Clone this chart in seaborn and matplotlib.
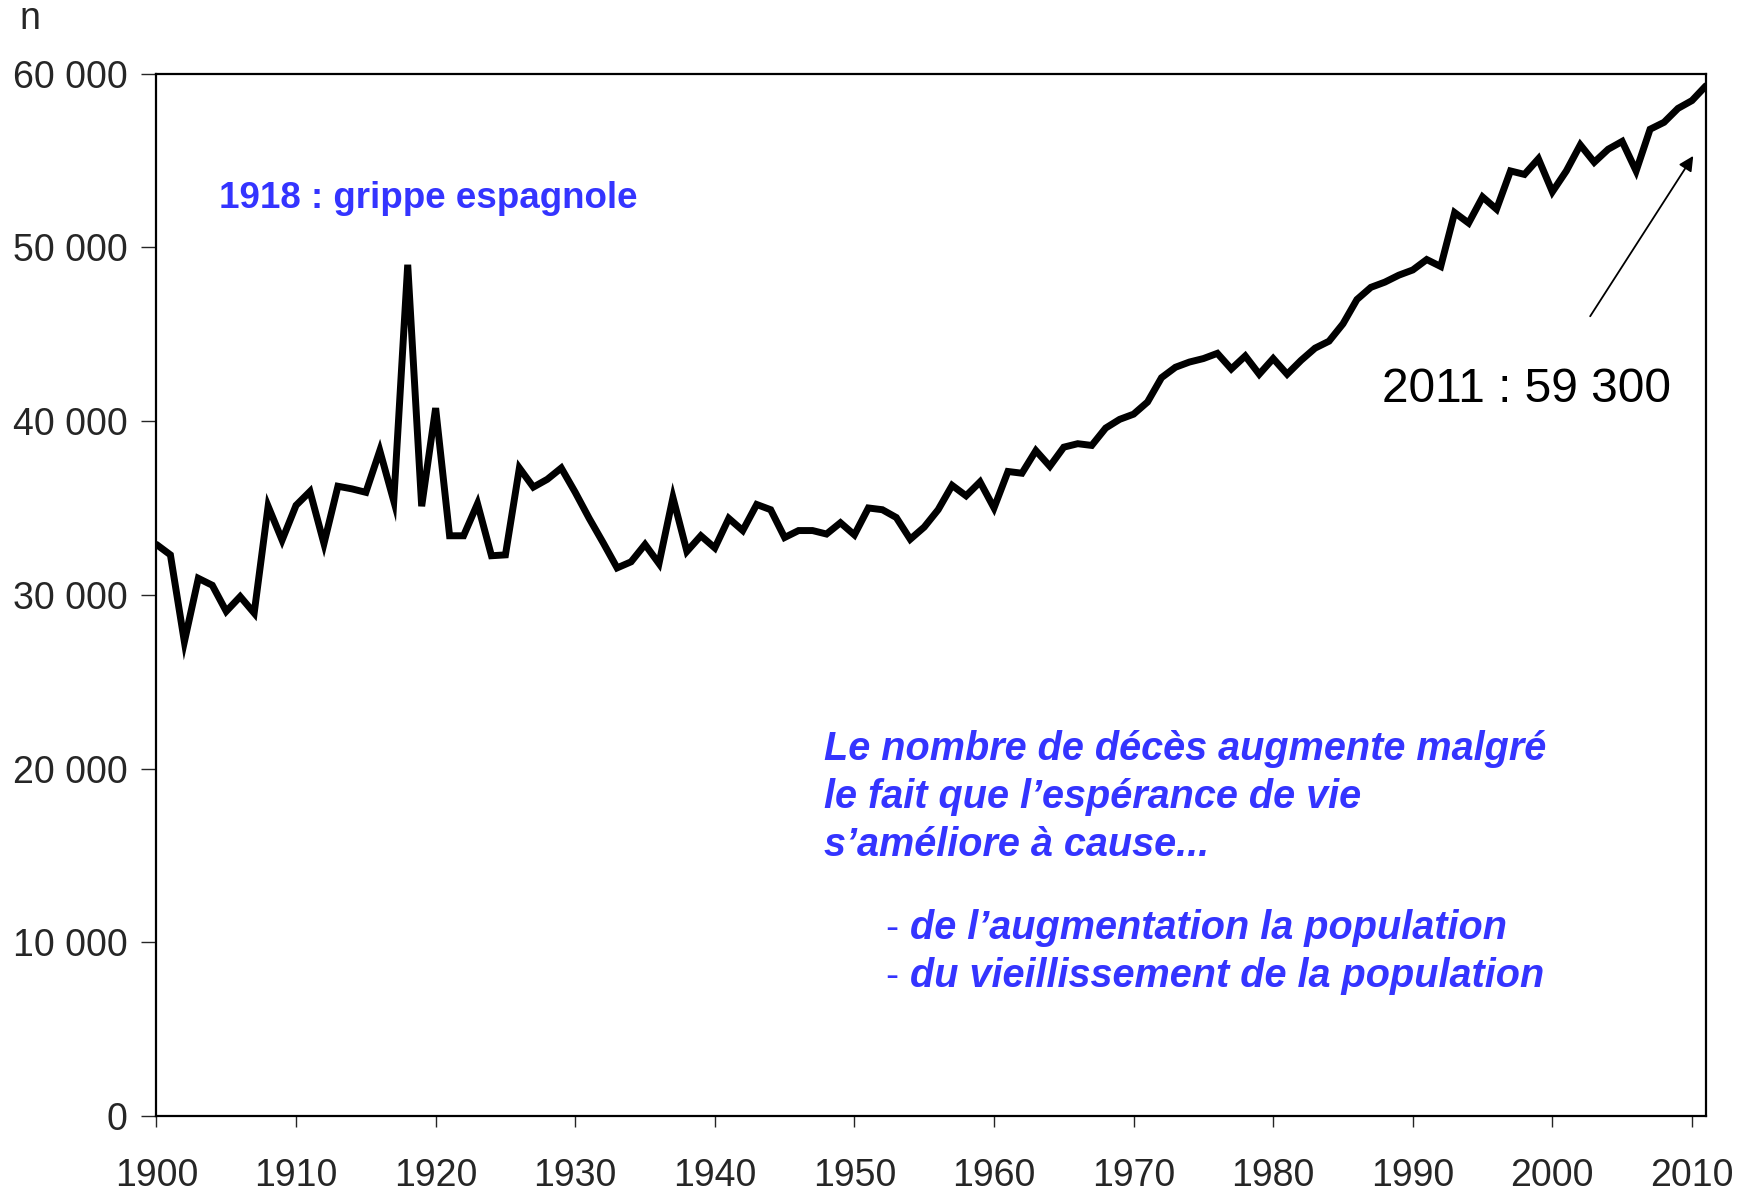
#  Import Libraries

import numpy as np
import pandas as pd
import matplotlib
matplotlib.use("Agg")
import matplotlib.pyplot as plt
from matplotlib.ticker import FuncFormatter
import seaborn as sns

sns.set_style("white")
plt.rcParams['font.family'] = ['Liberation Sans', 'DejaVu Sans']

# ==========================
#  Data (deaths per year)
# ==========================
years = list(range(1900, 2012))
deaths = [
    32900, 32300, 27300, 30950, 30550, 29050, 29900, 28950, 35100, 33150,   # 1900s
    35150, 35950, 32950, 36250, 36100, 35900, 38300, 35400, 49000, 35100,   # 1910s
    40750, 33400, 33400, 35250, 32250, 32300, 37300, 36200, 36650, 37300,   # 1920s
    35900, 34400, 33000, 31550, 31900, 32900, 31800, 35600, 32500, 33400,   # 1930s
    32700, 34400, 33700, 35200, 34900, 33300, 33700, 33700, 33500, 34150,   # 1940s
    33450, 35000, 34900, 34450, 33200, 33900, 34900, 36300, 35700, 36500,   # 1950s
    35000, 37100, 37000, 38300, 37400, 38500, 38700, 38600, 39600, 40100,   # 1960s
    40400, 41100, 42500, 43100, 43400, 43600, 43900, 43000, 43750, 42700,   # 1970s
    43600, 42700, 43500, 44200, 44600, 45600, 47000, 47700, 48000, 48400,   # 1980s
    48700, 49300, 48900, 52000, 51400, 52900, 52200, 54400, 54200, 55100,   # 1990s
    53200, 54400, 55900, 54900, 55650, 56100, 54400, 56800, 57200, 58000,   # 2000s
    58450, 59300,                                                           # 2010-2011
]

x_ticks = list(range(1900, 2011, 10))
y_ticks = [0, 10000, 20000, 30000, 40000, 50000, 60000]

flu_label = "1918 : grippe espagnole"
last_label = "2011 : 59 300"
comment_lines = [
    "Le nombre de décès augmente malgré",
    "le fait que l\u2019espérance de vie",
    "s\u2019améliore à cause...",
]
cause_lines = [
    "de l\u2019augmentation la population",
    "du vieillissement de la population",
]

BLUE = "#3434FF"


def thousands(v, pos):
    """Format 60000 as '60 000'."""
    return f"{int(v):,}".replace(",", " ")


# ==========================
#  Plot
# ==========================
def draw_chart():
    df = pd.DataFrame({"year": years, "deaths": deaths})

    fig = plt.figure(figsize=(17.52, 11.88), dpi=100)
    ax = fig.add_axes([0.0893, 0.0606, 0.9737 - 0.0893, 0.938 - 0.0606])

    sns.lineplot(data=df, x="year", y="deaths", ax=ax, color="black",
                 linewidth=5, solid_joinstyle="miter")

    ax.set_xlim(1900, 2011)
    ax.set_ylim(0, 60000)
    ax.set_xticks(x_ticks)
    ax.set_yticks(y_ticks)
    ax.yaxis.set_major_formatter(FuncFormatter(thousands))
    ax.set_xlabel("")
    ax.set_ylabel("")

    for side in ["left", "bottom", "top", "right"]:
        ax.spines[side].set_visible(True)
        ax.spines[side].set_color("black")
        ax.spines[side].set_linewidth(1.6)

    ax.tick_params(axis="y", direction="out", length=11, width=1, pad=10,
                   labelsize=27, left=True)
    ax.tick_params(axis="x", direction="out", length=8, width=1, pad=22,
                   labelsize=27, bottom=True)

    # y axis unit
    fig.text(0.017, 0.984, "n", fontsize=27, ha="center", va="center")

    # annotations
    ax.text(1904.5, 52800, flu_label, color=BLUE, fontsize=26.5,
            fontweight="bold", ha="left", va="center")
    ax.text(1987.8, 41800, last_label, color="black", fontsize=34.5,
            ha="left", va="center")
    ax.annotate("", xy=(2010.2, 55400), xytext=(2002.6, 45900),
                arrowprops=dict(arrowstyle="-|>", color="black", lw=1.3,
                                mutation_scale=22))

    for i, line in enumerate(comment_lines):
        ax.text(1947.8, 21100 - i * 2750, line, color=BLUE, fontsize=28.5,
                fontweight="bold", fontstyle="italic", ha="left", va="center")
    for i, line in enumerate(cause_lines):
        y = 10800 - i * 2750
        ax.text(1952.2, y, "-", color=BLUE, fontsize=28.5, ha="left", va="center")
        ax.text(1954.0, y, line, color=BLUE, fontsize=28.5, fontweight="bold",
                fontstyle="italic", ha="left", va="center")

    fig.savefig("out.png", dpi=100)
    plt.close(fig)


def main():
    draw_chart()


if __name__ == "__main__":
    main()
